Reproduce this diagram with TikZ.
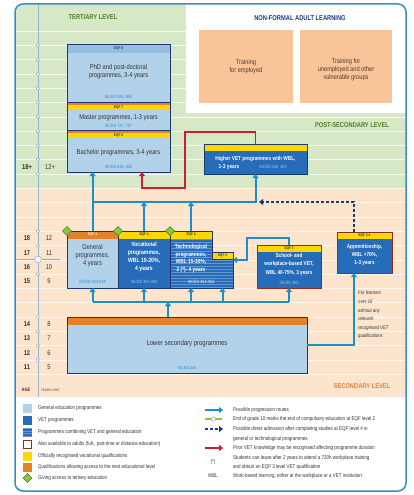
\documentclass[tikz,border=0pt]{standalone}
\usepackage{fontspec}
\setmainfont{Liberation Sans}[FakeStretch=0.82]
\usetikzlibrary{arrows.meta,calc}
\definecolor{genblue}{RGB}{178,210,234}
\definecolor{phdhdr}{RGB}{150,190,224}
\definecolor{vetblue}{RGB}{38,108,184}
\definecolor{stripec}{RGB}{100,152,212}
\definecolor{navy}{RGB}{30,55,110}
\definecolor{brick}{RGB}{140,45,30}
\definecolor{yel}{RGB}{255,214,0}
\definecolor{orng}{RGB}{232,128,40}
\definecolor{progblue}{RGB}{26,143,203}
\definecolor{redl}{RGB}{200,32,46}
\definecolor{dashnavy}{RGB}{30,58,112}
\definecolor{dgreen}{RGB}{141,198,63}
\definecolor{dgreenb}{RGB}{80,125,35}
\definecolor{tgreen}{RGB}{214,232,197}
\definecolor{peach}{RGB}{253,229,205}
\definecolor{frameblue}{RGB}{58,140,200}
\definecolor{nfbox}{RGB}{249,196,152}
\definecolor{axisc}{RGB}{150,180,212}
\definecolor{txtgreen}{RGB}{80,125,40}
\definecolor{txtnavy}{RGB}{30,55,130}
\definecolor{txtorange}{RGB}{232,130,45}
\definecolor{isced}{RGB}{40,140,205}
\definecolor{iscedl}{RGB}{165,205,240}
\definecolor{dtext}{RGB}{50,50,50}
\definecolor{nftext}{RGB}{80,60,50}
\tikzset{
  bx/.style={rectangle, inner sep=0pt, outer sep=0pt, anchor=north west},
  nb/.style={draw=navy, line width=1pt},
  rb/.style={draw=brick, line width=1pt},
  gridl/.style={draw=white, line width=0.5pt, opacity=0.75},
  axisl/.style={draw=axisc, line width=0.8pt},
  tick/.style={draw=axisc, fill=white, line width=0.6pt},
  btxt/.style={font=\fontsize{7}{8.3}\selectfont, text=dtext, align=center, inner sep=0pt},
  nftxt/.style={font=\fontsize{6.9}{8}\selectfont, text=nftext, align=center, inner sep=0pt},
  vtxt/.style={font=\fontsize{6.2}{8}\selectfont\bfseries, text=white, align=center, inner sep=0pt},
  isc/.style={font=\fontsize{4.6}{5}\selectfont, text=isced, inner sep=0pt},
  iscw/.style={font=\fontsize{4.6}{5}\selectfont, text=iscedl, inner sep=0pt},
  eqf/.style={font=\fontsize{3.8}{4}\selectfont\bfseries, text=navy, inner sep=0pt},
  eqfw/.style={font=\fontsize{3.8}{4}\selectfont\bfseries, text=white, inner sep=0pt},
  lvl/.style={font=\fontsize{7}{8}\selectfont\bfseries, inner sep=0pt},
  agel/.style={font=\fontsize{7}{8}\selectfont\bfseries, text=dtext, inner sep=0pt},
  yrl/.style={font=\fontsize{7}{8}\selectfont, text=dtext, inner sep=0pt},
  leg/.style={font=\fontsize{5.5}{9.5}\selectfont, text=dtext, anchor=west, align=left, inner sep=0pt},
  legsw/.style={rectangle, minimum size=9pt, inner sep=0pt},
  prog/.style={draw=progblue, line width=2pt, -{Triangle[length=4pt,width=6pt]}},
  progl/.style={draw=progblue, line width=2pt},
  redar/.style={draw=redl, line width=1.8pt, -{Triangle[length=4pt,width=6pt]}},
  dashar/.style={draw=dashnavy, line width=2pt, dash pattern=on 3pt off 2pt, -{Triangle[length=4pt,width=6pt]}},
  greenl/.style={draw=dgreen, line width=1.5pt},
  diam/.style={fill=dgreen, draw=dgreenb, line width=0.5pt},
}
\begin{document}
\begin{tikzpicture}[x=1pt,y=-1pt]
\useasboundingbox (0,0) rectangle (414,495);
% ---------- backgrounds ----------
\begin{scope}
\clip[rounded corners=8pt] (15,4) rectangle (406,491);
\fill[white] (15,4) rectangle (406,491);
\fill[tgreen] (15,4) rectangle (186,188.3);
\fill[tgreen] (186,113) rectangle (406,188.3);
\fill[peach] (15,188.3) rectangle (406,397);
\foreach \k in {0,...,5} \draw[gridl] (15,31+14.3*\k) -- (186,31+14.3*\k);
\foreach \k in {6,...,24} \draw[gridl] (15,31+14.3*\k) -- (406,31+14.3*\k);
\end{scope}
% axis
\draw[axisl] (38,4) -- (38,397);
\foreach \y in {45.3,59.6,73.9,88.2,102.5,116.8,131.1,145.4,159.7,174,231.2,245.5,274.1,317,331.3,345.6,359.9}
  \draw[tick] (38,\y) circle (1.8pt);
\draw[greenl] (15,259.5) -- (60,259.5);
\draw[tick] (38,259.5) circle (3.3pt);
% ages
\node[agel] at (27,167) {18+}; \node[yrl] at (50,167) {12+};
\foreach \a/\b/\y in {18/12/238.3,17/11/252.6,16/10/267,15/9/281.2,14/8/324,13/7/338.5,12/6/352.7,11/5/367}{
  \node[agel] at (27,\y) {\a}; \node[yrl] at (49,\y) {\b};}
\node[font=\fontsize{4.8}{5}\selectfont\bfseries, text=dtext] at (26,390) {AGE};
\node[font=\fontsize{3.4}{4}\selectfont, text=dtext, anchor=west, inner sep=0pt] at (41,390) {YEARS in E\&T};
% level titles
\node[lvl, text=txtgreen] at (93,17) {TERTIARY LEVEL};
\node[lvl, text=txtnavy] at (300,18) {NON-FORMAL ADULT LEARNING};
\node[lvl, text=txtgreen] at (352,125) {POST-SECONDARY LEVEL};
\node[lvl, text=txtorange] at (362,386) {SECONDARY LEVEL};
% ---------- non-formal ----------
\node[bx, fill=nfbox, minimum width=94pt, minimum height=73pt] (nf1) at (199,30) {};
\node[bx, fill=nfbox, minimum width=92pt, minimum height=73pt] (nf2) at (300,30) {};
\node[nftxt] at (nf1.center) {Training\\for employed};
\node[nftxt] at ([yshift=-3pt]nf2.center) {Training for\\unemployed and other\\vulnerable groups};
% ---------- tertiary ----------
\node[bx, fill=genblue, minimum width=103pt, minimum height=57pt] (phd) at (67,45) {};
\node[bx, fill=genblue, minimum width=103pt, minimum height=28pt] (mas) at (67,102) {};
\node[bx, fill=genblue, minimum width=103pt, minimum height=42pt] (bach) at (67,130) {};
\fill[phdhdr] (phd.north west) rectangle ([yshift=-8pt]phd.north east);
\fill[orng] (mas.north west) rectangle ([yshift=-2.8pt]mas.north east);
\fill[yel] ([yshift=-2.8pt]mas.north west) rectangle ([yshift=-8pt]mas.north east);
\fill[orng] (bach.north west) rectangle ([yshift=-2.8pt]bach.north east);
\fill[yel] ([yshift=-2.8pt]bach.north west) rectangle ([yshift=-8pt]bach.north east);
\draw[navy, line width=1pt] (mas.north west) -- (mas.north east) (bach.north west) -- (bach.north east);
\draw[nb] (phd.north west) rectangle (bach.south east);
\node[eqf] at ([yshift=-4pt]phd.north) {EQF 8};
\node[eqf] at ([yshift=-5.4pt]mas.north) {EQF 7};
\node[eqf] at ([yshift=-5.4pt]bach.north) {EQF 6};
\node[btxt] at (118.5,72) {PhD and post-doctoral\\programmes, 3-4 years};
\node[isc] at (118.5,97) {ISCED 844, 854};
\node[btxt] at (118.5,117.5) {Master programmes, 1-3 years};
\node[isc] at (118.5,126.5) {ISCED 747, 757};
\node[btxt] at (118.5,153) {Bachelor programmes, 3-4 years};
\node[isc] at (118.5,167.5) {ISCED 645, 655};
% ---------- higher VET ----------
\node[bx, fill=vetblue, minimum width=103pt, minimum height=30pt] (hvet) at (204,144) {};
\fill[yel] (hvet.north west) rectangle ([yshift=-6.5pt]hvet.north east);
\draw[nb] (hvet.north west) rectangle (hvet.south east);
\node[vtxt, font=\fontsize{5.8}{7}\selectfont\bfseries] at (255.5,159.5) {Higher VET programmes with WBL,};
\node[vtxt, font=\fontsize{5.8}{7}\selectfont\bfseries] at (229,167.3) {1-3 years};
\node[iscw] at (273,167.3) {ISCED 442, 453};
% ---------- upper secondary ----------
\node[bx, fill=genblue, minimum width=51pt, minimum height=57pt] (gen) at (67,231) {};
\fill[orng] (gen.north west) rectangle ([yshift=-7.5pt]gen.north east);
\draw[nb] (gen.north west) rectangle (gen.south east);
\node[eqfw] at ([yshift=-3.8pt]gen.north) {EQF 4};
\node[btxt] at (92.5,255.5) {General\\programmes,\\4 years};
\node[isc] at (92.5,282) {ISCED 344-344};
\node[bx, fill=vetblue, minimum width=52pt, minimum height=57pt] (voc) at (118,231) {};
\fill[yel] (voc.north west) rectangle ([yshift=-7.5pt]voc.north east);
\draw[nb] (voc.north west) rectangle (voc.south east);
\node[eqf] at ([yshift=-3.8pt]voc.north) {EQF 4};
\node[vtxt] at (144,257) {Vocational\\programmes,\\WBL 10-20\%,\\4 years};
\node[iscw] at (144,282) {ISCED 354-354};
\node[bx, minimum width=42pt, minimum height=57pt] (tech) at (170,231) {};
\node[bx, minimum width=21pt, minimum height=36pt] (techb) at (212,252) {};
\begin{scope}
\clip (170,231) -- (212,231) -- (212,252) -- (233,252) -- (233,288) -- (170,288) -- cycle;
\fill[vetblue] (170,231) rectangle (233,288);
\foreach \y in {233,236,...,288} \draw[stripec, line width=0.7pt] (170,\y) -- (233,\y);
\end{scope}
\fill[yel] (tech.north west) rectangle ([yshift=-7.5pt]tech.north east);
\fill[yel] (techb.north west) rectangle ([yshift=-7pt]techb.north east);
\draw[navy, line width=0.6pt] (techb.north west) rectangle ([yshift=-7pt]techb.north east);
\draw[nb] (170,231) -- (212,231) -- (212,252) -- (233,252) -- (233,288) -- (170,288) -- cycle;
\node[eqf] at ([yshift=-3.8pt]tech.north) {EQF 4};
\node[eqf] at ([yshift=-3.5pt]techb.north) {EQF 3};
\node[vtxt, font=\fontsize{5.9}{7.7}\selectfont\bfseries] at (191,258.5) {Technological\\programmes,\\WBL 15-30\%,\\2 (*)- 4 years};
\node[font=\fontsize{4.6}{5}\selectfont, text=white, inner sep=0pt] at (201,282) {ISCED 354-354};
% school
\node[bx, fill=vetblue, minimum width=64pt, minimum height=43pt] (school) at (257,245) {};
\fill[yel] (school.north west) rectangle ([yshift=-7pt]school.north east);
\draw[rb] (school.north west) rectangle (school.south east);
\node[eqf] at ([yshift=-3.5pt]school.north) {EQF 3};
\node[vtxt, font=\fontsize{5.7}{8.4}\selectfont\bfseries] at (289,264.5) {School- and\\workplace-based VET,\\WBL 40-75\%, 3 years};
\node[iscw] at (289,283) {ISCED 353};
% apprenticeship
\node[bx, fill=vetblue, minimum width=55pt, minimum height=41pt] (appr) at (337,232) {};
\fill[yel] (appr.north west) rectangle ([yshift=-6.5pt]appr.north east);
\draw[rb] (appr.north west) rectangle (appr.south east);
\node[eqf] at ([yshift=-3.3pt]appr.north) {EQF 3-4};
\node[vtxt, font=\fontsize{5.7}{8}\selectfont\bfseries] at (364.5,255) {Apprenticeship,\\WBL >70\%,\\1-3 years};
\node[font=\fontsize{5.2}{8.6}\selectfont\itshape, text=dtext, align=left, anchor=north west, inner sep=0pt] at (358,291) {For learners\\over 16\\without any\\relevant\\recognised VET\\qualifications};
% lower secondary
\node[bx, fill=genblue, minimum width=240pt, minimum height=56pt] (lsec) at (67,317) {};
\fill[orng] (lsec.north west) rectangle ([yshift=-8pt]lsec.north east);
\draw[nb] (lsec.north west) rectangle (lsec.south east);
\node[btxt, font=\fontsize{7.3}{8}\selectfont] at (187,344) {Lower secondary programmes};
\node[isc] at (187,368) {ISCED 244};
% diamonds
\foreach \x in {67,118,170}
  \draw[diam] (\x,226.5) -- (\x+4.5,231) -- (\x,235.5) -- (\x-4.5,231) -- cycle;
% ---------- connectors ----------
\coordinate (busA) at (0,202);
\coordinate (busB) at (0,302);
\coordinate (sk) at (247,238);
\coordinate (ty) at (0,260);
\coordinate (dend) at (259,202);
\coordinate (r1) at (185,132);
\coordinate (r2) at (142,188);
\draw[prog] (gen.north) -- (gen.north |- bach.south);
\draw[prog] (gen.north |- busA) -| (hvet.south);
\draw[prog] (voc.north) -- (voc.north |- busA);
\draw[prog] (tech.north) -- (tech.north |- busA);
\draw[progl] (gen.south |- busB) -- (school.south |- busB);
\draw[prog] ([xshift=-19pt]lsec.north) -- ([xshift=-19pt]lsec.north |- busB);
\foreach \n in {gen,voc,tech,techb,school}
  \draw[prog] (\n.south |- busB) -- (\n.south);
\draw[prog] (school.north) |- (sk) |- (techb.east |- ty);
\draw[prog] (lsec.east) -| ([xshift=-10.5pt]appr.south);
\draw[dashar] ([xshift=-10.5pt]appr.north) |- (dend);
\draw[redar] (hvet.north) |- (r1) |- (r2) -- ([xshift=23.5pt]bach.south);
% ---------- legend ----------
\node[legsw, fill=genblue] (s1) at (27.5,408) {};
\node[legsw, fill=vetblue] (s2) at (27.5,420) {};
\begin{scope}
\clip (23,427.5) rectangle (32,436.5);
\fill[vetblue] (23,427.5) rectangle (32,436.5);
\foreach \y in {428.5,431,...,437} \draw[stripec, line width=0.8pt] (23,\y) -- (32,\y);
\end{scope}
\node[legsw, minimum size=8pt, fill=white, draw=brick, line width=0.8pt] (s4) at (27.5,444) {};
\node[legsw, fill=yel] (s5) at (27.5,456) {};
\node[legsw, fill=orng] (s6) at (27.5,467) {};
\draw[diam] (27.5,473.5) -- (32,478) -- (27.5,482.5) -- (23,478) -- cycle;
\node[leg] at (38,408) {General education programmes};
\node[leg] at (38,420) {VET programmes};
\node[leg] at (38,432) {Programmes combining VET and general education};
\node[leg] at (38,444) {Also available to adults (full-, part-time or distance education)};
\node[leg] at (38,456) {Officially recognised vocational qualifications};
\node[leg] at (38,467) {Qualifications allowing access to the next educational level};
\node[leg] at (38,478) {Giving access to tertiary education};
\draw[prog] (205,410) -- (223,410);
\draw[greenl] (205,419) -- (222,419);
\draw[tick] (213.5,419) circle (2.2pt);
\draw[dashar] (205,429) -- (223,429);
\draw[redar] (205,448) -- (223,448);
\node[font=\fontsize{5.5}{6}\selectfont, text=dtext] at (213,462) {(*)};
\node[font=\fontsize{5.5}{6}\selectfont, text=dtext] at (213,476) {WBL};
\node[leg] at (233,410) {Possible progression routes};
\node[leg] at (233,419) {End of grade 10 marks the end of compulsory education at EQF level 2};
\node[leg] at (233,434) {Possible direct admission after completing studies at EQF level 4 in\\general or technological programmes};
\node[leg] at (233,448) {Prior VET knowledge may be recognised affecting programme duration};
\node[leg] at (233,462.5) {Students can leave after 2 years to attend a 720h workplace training\\and obtain an EQF 3 level VET qualification};
\node[leg] at (233,476) {Work-based learning, either at the workplace or a VET institution};
% frame
\draw[frameblue, line width=1.5pt, rounded corners=8pt] (15,4) rectangle (406,491);
\end{tikzpicture}
\end{document}
